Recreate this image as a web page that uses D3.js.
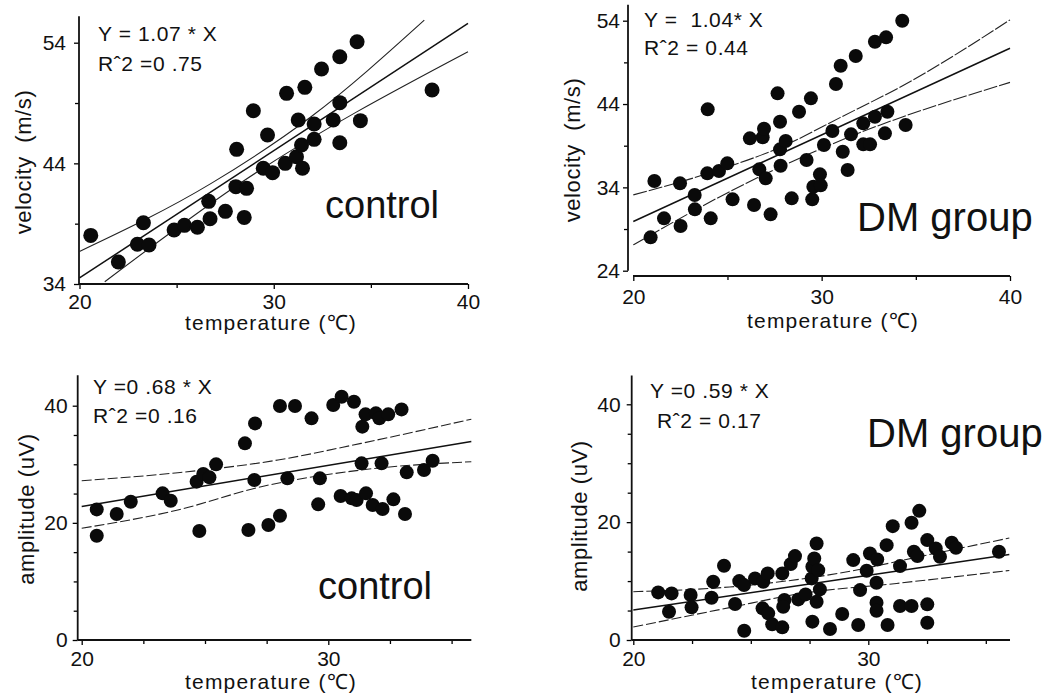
<!DOCTYPE html>
<html>
<head>
<meta charset="utf-8">
<script src="https://cdn.jsdelivr.net/npm/d3@7"></script>
<style>
  body { margin: 0; background: #fff; }
  svg text { font-family: "Liberation Sans", Arial, sans-serif; fill: #111; }
</style>
</head>
<body>
<svg id="chart" width="1060" height="697"></svg>
<script>
// ---- data: [temperature, value] ----
var ctrlVelocity = [[20.58,38.03],[22.0,35.82],[23.29,39.08],[22.98,37.29],[23.58,37.23],[24.87,38.48],
  [25.40,38.86],[26.07,38.70],[26.65,40.85],[26.72,39.41],[27.51,40.02],[28.09,45.16],[28.05,42.07],
  [28.60,41.93],[28.48,39.52],[28.95,48.36],[29.68,46.35],[29.46,43.59],[29.94,43.23],[30.59,44.0],
  [30.66,49.80],[31.26,47.59],[31.17,44.55],[31.43,45.52],[31.48,43.59],[31.60,50.30],[32.08,47.26],
  [32.08,45.99],[32.46,51.82],[33.06,47.59],[33.40,49.03],[33.40,52.84],[33.40,45.71],[34.29,54.08],
  [34.46,47.54],[38.15,50.08]];
var ctrlVelocityFit = [[20,34.5],[40,55.6]];
var ctrlVelocityUpper = [[20,36.7],[26.78,42.34],[31.92,47.86],[37.75,55.87]];
var ctrlVelocityLower = [[21.3,34.19],[28.5,42.6],[40,53.25]];

var dmVelocity = [[21.12,34.76],[20.92,28.0],[21.63,30.28],[22.48,34.48],[22.51,29.36],[23.26,33.08],
  [23.27,31.36],[23.95,43.36],[23.93,35.68],[24.11,30.28],[24.55,35.96],[24.99,36.88],[25.27,32.56],
  [26.19,39.88],[26.41,31.88],[26.69,36.16],[26.87,40.0],[26.94,41.04],[27.03,35.08],[27.29,30.76],
  [27.66,45.28],[27.79,41.88],[27.79,38.56],[28.09,39.56],[27.82,36.6],[28.41,32.68],[28.80,43.08],
  [29.20,37.28],[29.43,44.68],[29.50,32.56],[29.56,34.08],[29.91,35.56],[29.95,34.24],[30.12,39.08],
  [30.57,40.76],[30.76,46.4],[31.01,48.6],[31.12,38.28],[31.38,36.08],[31.56,40.36],[31.81,49.76],
  [32.21,41.68],[32.21,39.16],[32.57,39.16],[32.83,51.48],[32.83,42.48],[33.42,52.0],[33.36,40.48],
  [33.49,43.08],[34.28,54.0],[34.46,41.48]];
var dmVelocityFit = [[20,29.9],[40,50.7]];
var dmVelocityUpper = [[20,33.1],[24,35.7],[28.1,39.1],[31,42.4],[34.3,46.2],[40,54.1]];
var dmVelocityLower = [[20,27.1],[26.0,34.5],[31.3,39.9],[40,46.6]];

var ctrlAmplitude = [[20.61,22.30],[20.61,17.81],[21.42,21.51],[21.99,23.61],[23.28,25.04],[23.61,23.78],
  [24.66,27.03],[24.93,28.34],[25.18,27.77],[25.45,29.99],[24.77,18.61],[26.62,33.57],[27.03,36.98],
  [27.0,27.31],[26.76,18.78],[27.57,19.63],[28.04,21.22],[28.04,39.94],[28.65,39.94],[28.34,27.60],
  [29.32,37.84],[29.59,23.16],[29.66,27.60],[30.20,40.11],[30.54,41.54],[31.04,40.68],[30.50,24.58],
  [30.95,24.18],[31.15,23.90],[31.35,30.16],[31.38,36.42],[31.51,38.52],[31.53,25.04],[31.80,23.04],
  [31.93,38.69],[32.07,37.84],[32.16,30.16],[32.20,22.36],[32.43,38.52],[32.64,24.01],[32.97,39.37],
  [33.11,21.51],[33.18,28.62],[33.88,29.02],[34.23,30.61]];
var ctrlAmplitudeFit = [[20,22.8],[35.8,33.9]];
var ctrlAmplitudeUpper = [[20,27.2],[23.9,28.56],[27.96,30.73],[31.33,33.57],[35.8,37.7]];
var ctrlAmplitudeLower = [[20,19.07],[23.9,22.2],[27.28,26.17],[31.33,29.02],[35.8,30.44]];

var dmAmplitude = [[21.06,8.08],[21.63,7.91],[21.52,4.80],[22.44,7.63],[22.48,5.54],[23.33,7.18],
  [23.40,9.89],[23.86,12.60],[24.33,6.10],[24.51,10.0],[24.71,9.32],[24.72,1.58],[25.18,10.45],
  [25.53,9.89],[25.72,11.30],[25.50,5.37],[25.74,4.52],[25.91,2.66],[26.34,2.15],[26.34,11.30],
  [26.43,6.78],[26.38,5.65],[26.70,12.88],[26.88,14.24],[27.02,6.89],[27.33,7.74],[27.59,10.45],
  [27.62,12.43],[27.70,13.84],[27.80,16.38],[27.87,11.86],[27.94,8.59],[27.80,6.50],[27.62,3.11],
  [28.37,1.86],[28.89,4.41],[29.36,13.56],[29.57,2.54],[29.65,8.47],[29.93,11.75],[30.07,14.69],
  [30.38,13.67],[30.35,9.72],[30.35,6.33],[30.35,4.97],[30.78,16.10],[30.82,2.54],[31.04,19.32],
  [31.35,12.54],[31.35,5.76],[31.84,5.76],[31.84,19.89],[31.94,14.97],[32.09,14.24],[32.17,21.92],
  [32.51,16.95],[32.87,15.54],[33.05,14.12],[32.51,6.05],[32.51,2.94],[33.55,16.50],[33.73,15.65],
  [35.56,14.97]];
var dmAmplitudeFit = [[20,5.08],[36,14.5]];
var dmAmplitudeUpper = [[20,8.2],[24.1,9.0],[28.7,11.3],[32.6,14.5],[36,17.3]];
var dmAmplitudeLower = [[20,2.2],[24.1,5.5],[27,7.8],[31.2,9.6],[36,11.8]];

var svg = d3.select("#chart");

function drawPanel(cfg, points, fit, upper, lower) {
  var x = d3.scaleLinear().domain([20, cfg.xMid]).range(cfg.xRange);
  var y = d3.scaleLinear().domain(cfg.yDomain).range(cfg.yRange);
  var g = svg.append("g");

  // y axis
  var yAxis = d3.axisLeft(y)
    .tickValues(cfg.yTicks)
    .tickSize(5)
    .tickPadding(cfg.yPad)
    .tickFormat(d => cfg.yLabels.indexOf(d) >= 0 ? d : "");
  var ya = g.append("g")
    .attr("transform", `translate(${cfg.axisX},0)`)
    .call(yAxis);
  ya.select(".domain").remove();
  ya.selectAll(".tick line").attr("stroke-width", 1.3)
    .filter(d => cfg.yLabels.indexOf(d) < 0).attr("x2", -4);
  ya.selectAll("text").attr("font-size", 21).attr("font-family", null);
  g.append("line")
    .attr("x1", cfg.axisX).attr("x2", cfg.axisX)
    .attr("y1", y(cfg.yTop)).attr("y2", y(cfg.yDomain[0]))
    .attr("stroke", "#111").attr("stroke-width", 1.8);

  // x axis
  var xAxis = d3.axisBottom(x)
    .tickValues(cfg.xTicks)
    .tickSize(5)
    .tickPadding(cfg.xPad)
    .tickFormat(d => cfg.xLabels.indexOf(d) >= 0 ? d : "");
  var xa = g.append("g")
    .attr("transform", `translate(0,${cfg.xAxisY})`)
    .call(xAxis);
  xa.select(".domain").remove();
  xa.selectAll(".tick line").attr("stroke-width", 1.3)
    .filter(d => cfg.xLabels.indexOf(d) < 0).attr("y2", 4);
  xa.selectAll("text").attr("font-size", 21).attr("font-family", null);
  g.append("line")
    .attr("x1", cfg.xStartX).attr("x2", x(cfg.xEnd))
    .attr("y1", cfg.xAxisY).attr("y2", cfg.xAxisY)
    .attr("stroke", "#111").attr("stroke-width", 1.8);

  // regression line and confidence bands
  var line = d3.line().x(d => x(d[0])).y(d => y(d[1])).curve(d3.curveMonotoneX);
  g.append("path").datum(fit).attr("d", line)
    .attr("fill", "none").attr("stroke", "#111").attr("stroke-width", 1.5);
  [upper, lower].forEach(function(band) {
    g.append("path").datum(band).attr("d", line)
      .attr("fill", "none").attr("stroke", "#222").attr("stroke-width", 1.1)
      .attr("stroke-dasharray", cfg.dash);
  });

  // points
  g.selectAll("circle.pt")
    .data(points)
    .enter()
    .append("circle")
    .attr("class", "pt")
    .attr("cx", d => x(d[0]))
    .attr("cy", d => y(d[1]))
    .attr("r", cfg.r)
    .attr("fill", "#0a0a0a");

  // text
  g.append("text").attr("x", cfg.eqX).attr("y", cfg.eqY)
    .attr("font-size", 21).attr("letter-spacing", 0.6).attr("xml:space", "preserve").text(cfg.eq);
  g.append("text").attr("x", cfg.r2X).attr("y", cfg.r2Y)
    .attr("font-size", 21).attr("letter-spacing", 0.6).attr("xml:space", "preserve").text(cfg.r2);
  g.append("text").attr("x", cfg.groupX).attr("y", cfg.groupY)
    .attr("font-size", cfg.groupSize).text(cfg.group);
  g.append("text").attr("x", cfg.xLabelX).attr("y", cfg.xLabelY)
    .attr("text-anchor", "middle").attr("font-size", 21).attr("letter-spacing", 1.2)
    .text("temperature (\u2103)");
  g.append("text")
    .attr("transform", `translate(${cfg.yLabelX},${cfg.yLabelY}) rotate(-90)`)
    .attr("text-anchor", "middle").attr("font-size", 22).attr("letter-spacing", 0.6)
    .attr("xml:space", "preserve")
    .text(cfg.yLabel);
}

drawPanel({
  xMid: 40, xRange: [79.5, 468], xEnd: 40, xStartX: 79, xTicks: [20, 25, 30, 35, 40], xLabels: [20, 30, 40], xPad: 5,
  yDomain: [34, 54], yRange: [284, 42.7], yTop: 56.2, yTicks: [34, 39, 44, 49, 54], yLabels: [34, 44, 54], yPad: 8,
  axisX: 79, xAxisY: 284, r: 7.5, dash: null,
  eq: "Y = 1.07 * X", eqX: 98, eqY: 41, r2: "R\u02C62 =0 .75", r2X: 98, r2Y: 71,
  group: "control", groupX: 325, groupY: 218, groupSize: 38,
  xLabelX: 271, xLabelY: 330, yLabel: "velocity  (m/s)", yLabelX: 31, yLabelY: 162
}, ctrlVelocity, ctrlVelocityFit, ctrlVelocityUpper, ctrlVelocityLower);

drawPanel({
  xMid: 40, xRange: [633.3, 1010], xEnd: 40, xStartX: 633, xTicks: [20, 25, 30, 35, 40], xLabels: [20, 30, 40], xPad: 8,
  yDomain: [24, 54], yRange: [270.7, 20.7], yTop: 55.9, yTicks: [24, 29, 34, 39, 44, 49, 54], yLabels: [24, 34, 44, 54], yPad: 3,
  axisX: 628, xAxisY: 276, r: 7, dash: "14,2",
  eq: "Y =  1.04* X", eqX: 644, eqY: 27, r2: "R\u02C62 = 0.44", r2X: 644, r2Y: 55,
  group: "DM group", groupX: 857, groupY: 231, groupSize: 40,
  xLabelX: 833, xLabelY: 328, yLabel: "velocity  (m/s)", yLabelX: 580, yLabelY: 150
}, dmVelocity, dmVelocityFit, dmVelocityUpper, dmVelocityLower);

drawPanel({
  xMid: 30, xRange: [81.7, 328.3], xEnd: 35.8, xStartX: 77.7, xTicks: [20, 22.5, 25, 27.5, 30, 32.5, 35], xLabels: [20, 30], xPad: 6,
  yDomain: [0, 40], yRange: [640, 405.7], yTop: 45.2, yTicks: [0, 5, 10, 15, 20, 25, 30, 35, 40], yLabels: [0, 20, 40], yPad: 5,
  axisX: 77.7, xAxisY: 640, r: 7, dash: "10,3",
  eq: "Y =0 .68 * X", eqX: 93, eqY: 394, r2: "R\u02C62 =0 .16", r2X: 93, r2Y: 423,
  group: "control", groupX: 318, groupY: 599, groupSize: 38,
  xLabelX: 271, xLabelY: 689, yLabel: "amplitude (uV)", yLabelX: 34, yLabelY: 509
}, ctrlAmplitude, ctrlAmplitudeFit, ctrlAmplitudeUpper, ctrlAmplitudeLower);

drawPanel({
  xMid: 30, xRange: [633.3, 868.3], xEnd: 36.03, xStartX: 631.7, xTicks: [20, 22.5, 25, 27.5, 30, 32.5, 35], xLabels: [20, 30], xPad: 6,
  yDomain: [0, 40], yRange: [640, 404.3], yTop: 44.9, yTicks: [0, 5, 10, 15, 20, 25, 30, 35, 40], yLabels: [0, 20, 40], yPad: 6,
  axisX: 631.7, xAxisY: 640, r: 7, dash: "10,3",
  eq: "Y =0 .59 * X", eqX: 650, eqY: 398, r2: "R\u02C62 = 0.17", r2X: 657, r2Y: 428,
  group: "DM group", groupX: 867, groupY: 447, groupSize: 40,
  xLabelX: 837, xLabelY: 689, yLabel: "amplitude (uV)", yLabelX: 587, yLabelY: 516
}, dmAmplitude, dmAmplitudeFit, dmAmplitudeUpper, dmAmplitudeLower);
</script>
</body>
</html>
